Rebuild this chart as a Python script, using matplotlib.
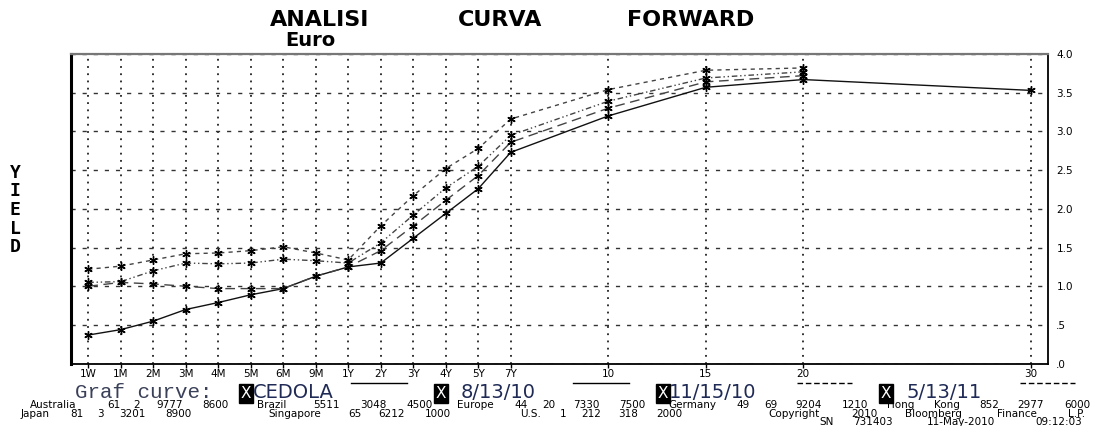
import re
import matplotlib
matplotlib.use("Agg")
import matplotlib.pyplot as plt
from matplotlib.lines import Line2D

# tenors and where they sit on the (non uniform) Bloomberg x scale
tenors = ['1W', '1M', '2M', '3M', '4M', '5M', '6M', '9M', '1Y', '2Y', '3Y',
          '4Y', '5Y', '7Y', '10', '15', '20', '30']
tenor_pos = [0, 1, 2, 3, 4, 5, 6, 7, 8, 9, 10, 11, 12, 13, 16, 19, 22, 29]

# yields
cedola = [0.37, 0.44, 0.55, 0.70, 0.79, 0.89, 0.97, 1.13, 1.25, 1.30, 1.62,
          1.94, 2.26, 2.73, 3.20, 3.57, 3.67, 3.53]
fwd_aug10 = [1.00, 1.05, 1.03, 1.00, 0.97, 0.97, 0.97, 1.13, 1.25, 1.46, 1.78,
             2.11, 2.43, 2.86, 3.30, 3.64, 3.72]
fwd_nov10 = [1.05, 1.06, 1.20, 1.30, 1.29, 1.30, 1.35, 1.33, 1.30, 1.56, 1.92,
             2.27, 2.55, 2.95, 3.39, 3.69, 3.77]
fwd_may11 = [1.22, 1.26, 1.34, 1.42, 1.43, 1.46, 1.51, 1.43, 1.34, 1.78, 2.17,
             2.52, 2.78, 3.16, 3.54, 3.79, 3.82]

series_names = ['CEDOLA', '8/13/10', '11/15/10', '5/13/11']
yticks = [0.0, 0.5, 1.0, 1.5, 2.0, 2.5, 3.0, 3.5, 4.0]
ytick_labels = ['.0', '.5', '1.0', '1.5', '2.0', '2.5', '3.0', '3.5', '4.0']

W, H = 1099, 426
fig = plt.figure(figsize=(W / 100, H / 100), dpi=100)
fig.patch.set_facecolor('white')

def fx(px):
    return px / W

def fy(py):
    return 1 - py / H

ax = fig.add_axes([fx(71), fy(363.7), (1048 - 71) / W, (363.7 - 54) / H])
ax.set_xlim(-0.53, 29.53)
ax.set_ylim(0, 4.0)

# grid: dotted verticals at each tenor, dashed horizontals every 0.5
ax.set_axisbelow(True)
ax.set_xticks(tenor_pos)
ax.set_xticklabels(tenors, fontsize=7.5, family='DejaVu Sans')
ax.set_yticks(yticks)
ax.set_yticklabels(ytick_labels, fontsize=7.5, family='DejaVu Sans')
ax.yaxis.tick_right()
ax.grid(axis='x', color='#222222', linestyle=(0, (1, 3)), linewidth=1.3)
ax.grid(axis='y', color='#333333', linestyle=(0, (3, 5)), linewidth=1.0)
ax.tick_params(axis='x', direction='out', length=3, width=1, pad=1, colors='black')
ax.tick_params(axis='y', length=0, pad=6, colors='black')

ax.spines['left'].set_linewidth(2.2)
ax.spines['bottom'].set_linewidth(1.3)
ax.spines['right'].set_linewidth(1.3)
ax.spines['top'].set_linewidth(1.6)
ax.spines['top'].set_color('#777777')

star = (6, 2, 0)
styles = ['-', (0, (7, 4)), (0, (4, 2, 1, 2, 1, 2)), (0, (3, 3))]
colors = ['#111111', '#444444', '#444444', '#444444']
data = [cedola, fwd_aug10, fwd_nov10, fwd_may11]
for vals, ls, c in zip(data, styles, colors):
    ax.plot(tenor_pos[:len(vals)], vals, linestyle=ls, color=c, linewidth=1.0,
            marker=star, markersize=6, markeredgewidth=1.0,
            markeredgecolor='black', markerfacecolor='black')

# titles
title_font = dict(family='DejaVu Sans', fontweight='bold', fontsize=16, color='black')
for word, xc in [('ANALISI', 320), ('CURVA', 500), ('FORWARD', 691)]:
    fig.text(fx(xc), fy(20), word, ha='center', va='center', **title_font)
fig.text(fx(310), fy(40), 'Euro', ha='center', va='center', family='DejaVu Sans',
         fontweight='bold', fontsize=14, color='black')

fig.text(fx(15), fy(210), 'Y\nI\nE\nL\nD', ha='center', va='center',
         family='DejaVu Sans Mono', fontweight='bold', fontsize=13,
         linespacing=1.05, color='black')

# legend row
fig.text(fx(75), fy(398), 'Graf curve:', ha='left', va='baseline',
         family='Liberation Mono', fontsize=15, color='#3a4058')
box_x = [246, 441, 663, 886]
label_x = [253, 461, 669, 906]
sample_x = [(351, 407), (573, 629), (797, 852), (1020, 1075)]
for i, name in enumerate(series_names):
    fig.text(fx(box_x[i]), fy(398), 'X', ha='center', va='baseline',
             family='DejaVu Sans', fontsize=11, color='white',
             bbox=dict(boxstyle='square,pad=0.1', facecolor='black', edgecolor='black'))
    fig.text(fx(label_x[i]), fy(398), name, ha='left', va='baseline',
             family='DejaVu Sans', fontsize=14, color='#1f2a55')
    x1, x2 = sample_x[i]
    fig.add_artist(Line2D([fx(x1), fx(x2)], [fy(383), fy(383)], color='black',
                          linewidth=1.0, linestyle='-' if i < 2 else (0, (4, 2)),
                          transform=fig.transFigure))

# Bloomberg footer: every word sits on its column of the terminal's character grid
footer1 = ("Australia 61 2 9777 8600 Brazil 5511 3048 4500 Europe 44 20 7330 7500 "
           "Germany 49 69 9204 1210 Hong Kong 852 2977 6000")
footer2 = ("Japan 81 3 3201 8900".ljust(26) + "Singapore 65 6212 1000".ljust(28)
           + "U.S. 1 212 318 2000".ljust(26) + "Copyright 2010 Bloomberg Finance L.P.")
footer3 = " " * 87 + "SN 731403 11-May-2010 09:12:03"
cw = 9.26
for line, y in [(footer1, 408), (footer2, 417), (footer3, 425)]:
    for m in re.finditer(r'\S+', line):
        xc = 12 + (m.start() + len(m.group()) / 2) * cw
        fig.text(fx(xc), fy(y), m.group(), ha='center', va='baseline',
                 family='DejaVu Sans', fontsize=7.5, color='black')

fig.savefig('out.png', dpi=100, facecolor='white')
